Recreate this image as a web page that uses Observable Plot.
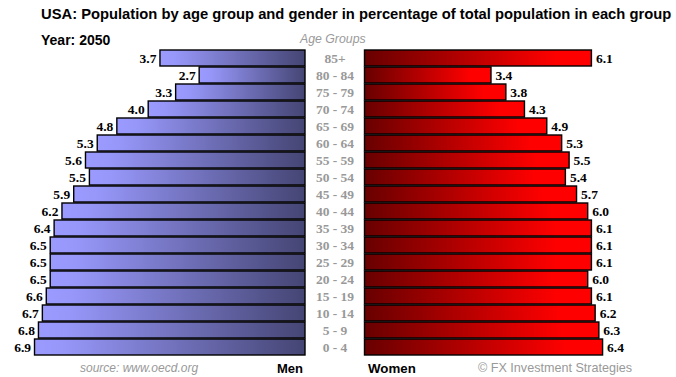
<!DOCTYPE html>
<html>
<head>
<meta charset="utf-8">
<script src="https://cdn.jsdelivr.net/npm/d3@7"></script>
<script src="https://cdn.jsdelivr.net/npm/@observablehq/plot@0.6"></script>
<style>
  html, body { margin: 0; padding: 0; background: #fff; }
  #chart { position: relative; width: 676px; height: 377px; overflow: hidden; font-family: "Liberation Sans", Arial, sans-serif; }
  #chart svg { position: absolute; left: 0; top: 0; }
  .t { position: absolute; white-space: nowrap; line-height: 1; }
  .title { left: 41px; top: 7px; font-size: 14.75px; font-weight: bold; color: #000; }
  .year { left: 41px; top: 33px; font-size: 14px; font-weight: bold; color: #000; }
  .groups { left: 300px; top: 33px; font-size: 12.3px; font-style: italic; color: #9a9a9a; }
  .source { left: 80px; top: 362px; font-size: 12px; font-style: italic; color: #999; }
  .men { left: 277px; top: 362px; font-size: 13px; font-weight: bold; color: #000; }
  .women { left: 368px; top: 362px; font-size: 13.3px; font-weight: bold; color: #000; }
  .copy { left: 478px; top: 362px; font-size: 12.6px; color: #999; }
</style>
</head>
<body>
<div id="chart">
  <div class="t title">USA: Population by age group and gender in percentage of total population in each group</div>
  <div class="t year">Year: 2050</div>
  <div class="t groups">Age Groups</div>
  <div class="t source">source: www.oecd.org</div>
  <div class="t men">Men</div>
  <div class="t women">Women</div>
  <div class="t copy">© FX Investment Strategies</div>
</div>
<script>
// Age groups, oldest at the top
const ages = ["85+", "80 - 84", "75 - 79", "70 - 74", "65 - 69", "60 - 64", "55 - 59", "50 - 54", "45 - 49",
              "40 - 44", "35 - 39", "30 - 34", "25 - 29", "20 - 24", "15 - 19", "10 - 14", "5 - 9", "0 - 4"];
// Share of the total population in each group (%), 2050
const men   = [3.7, 2.7, 3.3, 4.0, 4.8, 5.3, 5.6, 5.5, 5.9, 6.2, 6.4, 6.5, 6.5, 6.5, 6.6, 6.7, 6.8, 6.9];
const women = [6.1, 3.4, 3.8, 4.3, 4.9, 5.3, 5.5, 5.4, 5.7, 6.0, 6.1, 6.1, 6.1, 6.0, 6.1, 6.2, 6.3, 6.4];

const menRows = ages.map((age, i) => ({age, value: men[i]}));
const womenRows = ages.map((age, i) => ({age, value: women[i]}));
const fmt = d3.format(".1f");

const W = 676, H = 377;
const yScale = {domain: ages, range: [47.5, 357.5], padding: 0.07};

// Gradient definitions, added as a custom mark
function gradient(id, stops) {
  return () => {
    const ns = "http://www.w3.org/2000/svg";
    const defs = document.createElementNS(ns, "defs");
    const g = document.createElementNS(ns, "linearGradient");
    g.setAttribute("id", id);
    g.setAttribute("x1", "0"); g.setAttribute("x2", "1");
    g.setAttribute("y1", "0"); g.setAttribute("y2", "0");
    for (const [o, c] of stops) {
      const s = document.createElementNS(ns, "stop");
      s.setAttribute("offset", o);
      s.setAttribute("stop-color", c);
      g.appendChild(s);
    }
    defs.appendChild(g);
    return defs;
  };
}

const common = {
  width: W, height: H,
  style: {background: "transparent", overflow: "visible"},
  y: yScale
};

// Men: bars grow leftwards from the centre column
const menPlot = Plot.plot({
  ...common,
  marginLeft: 0, marginRight: W - 305,
  x: {domain: [0, 7], range: [305, 305 - 39.2 * 7]},
  axis: null,
  marks: [
    gradient("menGrad", [[0, "#9b9bff"], [0.1, "#9797fa"], [1, "#454574"]]),
    Plot.barX(menRows, {x1: 0, x2: "value", y: "age", fill: "url(#menGrad)", stroke: "#000", strokeWidth: 1.4}),
    Plot.text(menRows, {x: "value", y: "age", text: d => fmt(d.value), textAnchor: "end", dx: -4,
      fontFamily: "Liberation Serif", fontWeight: "bold", fontSize: 13.5, fill: "#000"})
  ]
});

// Women: bars grow rightwards, with the age labels in the centre column
const womenPlot = Plot.plot({
  ...common,
  marginLeft: 364.5, marginRight: 0,
  x: {domain: [0, 7], range: [364.5, 364.5 + 37.2 * 7]},
  axis: null,
  marks: [
    gradient("womenGrad", [[0, "#680000"], [0.85, "#ff0000"], [1, "#ff0000"]]),
    Plot.barX(womenRows, {x1: 0, x2: "value", y: "age", fill: "url(#womenGrad)", stroke: "#000", strokeWidth: 1.4}),
    Plot.text(womenRows, {x: "value", y: "age", text: d => fmt(d.value), textAnchor: "start", dx: 4,
      fontFamily: "Liberation Serif", fontWeight: "bold", fontSize: 13.5, fill: "#000"}),
    Plot.text(ages, {y: d => d, text: d => d, frameAnchor: "left", dx: -30, textAnchor: "middle",
      fontFamily: "Liberation Serif", fontWeight: "bold", fontSize: 13.5, fill: "#999"})
  ]
});

const chart = document.getElementById("chart");
chart.appendChild(menPlot);
chart.appendChild(womenPlot);
</script>
</body>
</html>
